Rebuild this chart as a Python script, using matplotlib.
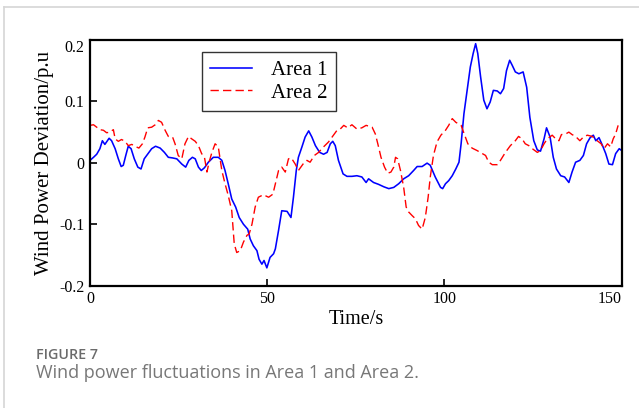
import numpy as np
import matplotlib.pyplot as plt
from matplotlib.lines import Line2D

# wind power deviation samples (time in s, deviation in p.u)
t1 = [0, 1, 1.9, 2.8, 3.5, 4.2, 5.4, 6.1, 7.1, 8.0, 8.8, 9.4, 10.1, 10.8, 11.6, 12.5,
      13.5, 14.4, 15.3, 16.5, 17.4, 18.5, 19.8, 21.0, 22.1, 23.3, 24.5, 25.9, 27.0, 27.9,
      28.9, 29.7, 30.6, 31.4, 32.3, 33.4, 34.8, 36.2, 37.2, 38.1, 39.0, 40.0, 41.1, 42.1,
      43.3, 44.5, 45.2, 46.1, 47.1, 47.7, 48.5, 49.1, 49.9, 50.8, 51.8, 52.3, 53.2, 54.1,
      55.6, 56.7, 57.4, 58.2, 58.8, 59.8, 60.7, 61.7, 62.6, 63.6, 64.8, 65.9, 66.9, 67.8,
      68.5, 69.2, 70.1, 71.4, 72.5, 73.9, 75.3, 76.7, 77.9, 78.6, 80.0, 81.4, 82.9, 84.3,
      85.7, 87.1, 88.5, 89.9, 91.3, 92.3, 93.7, 95.1, 96.0, 97.4, 98.9, 99.5, 100.3, 101.2,
      102.2, 103.2, 104.1, 104.7, 105.5, 106.4, 107.3, 108.1, 108.8, 109.4, 110.2, 111.1,
      112.0, 112.9, 113.8, 114.9, 115.8, 116.7, 117.5, 118.4, 119.1, 120.0, 121.0, 122.2,
      123.2, 124.1, 125.2, 126.2, 127.1, 128.1, 128.8, 129.8, 130.7, 131.6, 132.8, 133.9,
      135.1, 136.0, 137.0, 138.2, 139.2, 140.1, 141.1, 142.0, 142.7, 143.6, 144.6, 145.5,
      146.4, 147.4, 148.3, 149.3, 150.0]
area1 = [0.004, 0.009, 0.014, 0.023, 0.036, 0.030, 0.040, 0.036, 0.023, 0.0065, -0.006, -0.004,
         0.012, 0.027, 0.023, 0.0065, -0.007, -0.010, 0.0065, 0.016, 0.023, 0.027, 0.024, 0.017,
         0.009, 0.008, 0.0065, -0.002, -0.007, 0.004, 0.009, 0.0065, -0.007, -0.0125, -0.008,
         0.001, 0.009, 0.009, 0.004, -0.0125, -0.034, -0.059, -0.072, -0.089, -0.100, -0.108,
         -0.124, -0.135, -0.143, -0.157, -0.165, -0.159, -0.171, -0.154, -0.148, -0.140, -0.110,
         -0.078, -0.079, -0.089, -0.056, -0.0125, 0.009, 0.026, 0.042, 0.052, 0.042, 0.028,
         0.017, 0.014, 0.017, 0.031, 0.035, 0.028, 0.004, -0.018, -0.022, -0.022, -0.021,
         -0.023, -0.032, -0.026, -0.032, -0.035, -0.039, -0.042, -0.040, -0.034, -0.026, -0.021,
         -0.0125, -0.006, -0.006, -0.0005, -0.004, -0.023, -0.040, -0.042, -0.034, -0.029,
         -0.021, -0.010, 0.001, 0.031, 0.080, 0.118, 0.156, 0.178, 0.194, 0.178, 0.140, 0.102,
         0.088, 0.099, 0.118, 0.117, 0.1125, 0.121, 0.150, 0.167, 0.159, 0.148, 0.145, 0.148,
         0.123, 0.074, 0.036, 0.021, 0.019, 0.039, 0.057, 0.042, 0.009, -0.010, -0.021, -0.023,
         -0.032, -0.015, 0.001, 0.004, 0.012, 0.031, 0.041, 0.045, 0.036, 0.041, 0.028, 0.015,
         -0.002, -0.003, 0.015, 0.023, 0.020]

t2 = [0, 1.0, 1.9, 2.8, 3.8, 4.7, 5.6, 6.6, 7.1, 8.0, 8.9, 9.9, 10.8, 11.8, 12.7, 13.8, 14.8,
      15.5, 16.3, 17.4, 18.4, 19.3, 20.2, 21.2, 22.1, 23.3, 24.0, 24.9, 25.9, 26.8, 27.8, 28.7,
      29.7, 30.6, 31.5, 32.3, 33.0, 33.6, 34.4, 35.3, 36.2, 37.2, 38.1, 39.0, 40.0, 40.7, 41.4,
      42.4, 43.3, 44.3, 44.9, 45.7, 46.6, 47.5, 48.9, 50.4, 51.6, 52.3, 53.2, 54.1, 55.1, 56.0,
      56.8, 57.9, 58.8, 60.1, 61.2, 62.1, 63.3, 64.5, 65.9, 67.3, 68.3, 69.7, 70.6, 71.6, 72.7,
      73.9, 75.3, 76.7, 77.9, 79.6, 80.5, 81.2, 82.1, 83.1, 84.0, 84.9, 85.7, 86.2, 86.8, 87.6,
      88.5, 89.2, 89.9, 90.9, 91.8, 92.7, 93.7, 94.6, 95.4, 96.0, 96.9, 97.9, 99.0, 100.3,
      101.2, 102.2, 103.2, 104.7, 105.6, 106.6, 107.8, 109.2, 110.4, 111.6, 112.5, 113.5,
      114.9, 115.8, 117.2, 118.6, 120.0, 120.9, 121.9, 122.8, 123.8, 124.8, 126.2, 127.1,
      128.1, 129.0, 130.4, 131.4, 132.3, 133.0, 134.2, 135.1, 136.0, 137.0, 138.2, 139.2,
      140.3, 141.7, 143.1, 144.2, 145.0, 146.0, 146.9, 147.6, 148.3, 149.0]
area2 = [0.061, 0.062, 0.058, 0.054, 0.053, 0.049, 0.050, 0.054, 0.039, 0.035, 0.038, 0.035,
         0.028, 0.030, 0.027, 0.024, 0.031, 0.042, 0.057, 0.058, 0.062, 0.069, 0.066, 0.053,
         0.043, 0.042, 0.031, 0.012, 0.0065, 0.031, 0.043, 0.039, 0.035, 0.028, 0.015, 0.009,
         -0.015, 0.001, 0.017, 0.031, 0.026, -0.0125, -0.034, -0.053, -0.078, -0.132, -0.146,
         -0.143, -0.129, -0.118, -0.116, -0.100, -0.072, -0.056, -0.052, -0.056, -0.051, -0.034,
         -0.0125, -0.007, -0.015, 0.0065, 0.008, -0.002, -0.0125, -0.002, 0.004, 0.001, 0.012,
         0.017, 0.026, 0.034, 0.042, 0.053, 0.055, 0.061, 0.057, 0.062, 0.055, 0.057, 0.061,
         0.058, 0.047, 0.031, 0.009, -0.007, -0.017, -0.015, -0.007, 0.009, 0.0065, -0.0125,
         -0.040, -0.072, -0.080, -0.086, -0.091, -0.102, -0.108, -0.089, -0.056, -0.023, 0.012,
         0.034, 0.045, 0.053, 0.061, 0.072, 0.066, 0.061, 0.047, 0.031, 0.024, 0.020, 0.016,
         0.012, 0.001, -0.003, -0.003, 0.004, 0.017, 0.028, 0.036, 0.043, 0.039, 0.031, 0.028,
         0.023, 0.017, 0.020, 0.031, 0.039, 0.045, 0.039, 0.036, 0.046, 0.047, 0.050, 0.046,
         0.043, 0.036, 0.042, 0.045, 0.043, 0.036, 0.031, 0.023, 0.031, 0.026, 0.039, 0.047,
         0.061]

xticks = [0, 50, 100, 150]
yticks = [-0.2, -0.1, 0, 0.1, 0.2]
ytick_labels = ["-0.2", "-0.1", "0", "0.1", "0.2"]

serif = "Liberation Serif"

fig = plt.figure(figsize=(6.39, 4.08), dpi=100)
ax = fig.add_axes([0.1408, 0.2998, 0.8321, 0.6022])

ax.plot(t1, area1, color="#0000ff", lw=1.15, label="Area 1")
ax.plot(t2, area2, color="#ff0000", lw=1.0, dashes=(6, 3), label="Area 2")

ax.set_xlim(0, 150)
ax.set_ylim(-0.2, 0.2)
ax.set_xticks(xticks)
ax.set_yticks(yticks)
ax.set_xticklabels([str(v) for v in xticks], fontfamily=serif, fontsize=11.5)
ax.set_yticklabels(ytick_labels, fontfamily=serif, fontsize=11.5)
ax.get_xticklabels()[-1].set_horizontalalignment("right")
ax.get_yticklabels()[-1].set_verticalalignment("top")
ax.tick_params(direction="in", length=5, width=1.2, pad=4, top=False, right=False)
for s in ax.spines.values():
    s.set_linewidth(1.6)

ax.set_xlabel("Time/s", fontfamily=serif, fontsize=14.5, labelpad=2)
ax.set_ylabel("Wind Power Deviation/p.u", fontfamily=serif, fontsize=15, labelpad=4)

leg = ax.legend(loc="upper left", bbox_to_anchor=(202 / 639, 1 - 52 / 408),
                bbox_transform=fig.transFigure, borderaxespad=0,
                prop={"family": serif, "size": 15}, frameon=True, fancybox=False,
                edgecolor="black", handlelength=2.0, handletextpad=0.9,
                labelspacing=0.15, borderpad=0.4)
leg.get_frame().set_linewidth(1.0)

# light page frame and caption
fig.add_artist(Line2D([4 / 639, 1], [1 - 7 / 408] * 2, color="#d6d6d6", lw=1.2))
fig.add_artist(Line2D([4 / 639] * 2, [0, 1 - 7 / 408], color="#d6d6d6", lw=1.2))
fig.text(36 / 639, 1 - 359 / 408, "FIGURE 7", fontfamily="Open Sans", fontweight="semibold",
         fontsize=10.3, color="#6b6b6b", va="baseline")
fig.text(36 / 639, 1 - 378 / 408, "Wind power fluctuations in Area 1 and Area 2.",
         fontfamily="Open Sans", fontsize=13, color="#777777", va="baseline")

fig.savefig("out.png", dpi=100)
